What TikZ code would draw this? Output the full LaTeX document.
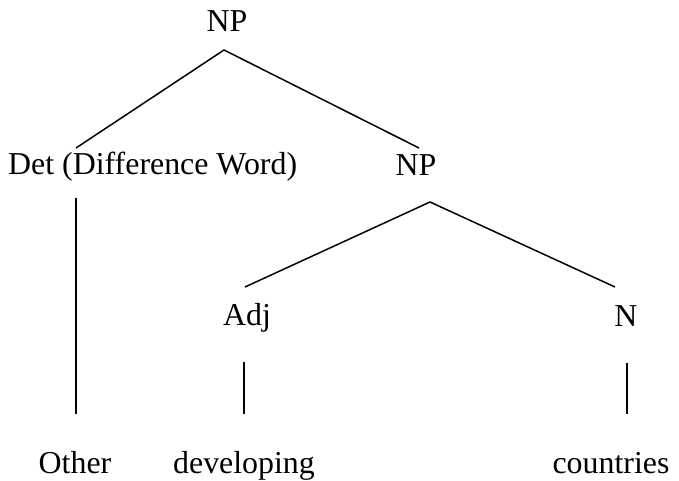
\documentclass[tikz,border=0pt]{standalone}
\usepackage{fontspec}
\setmainfont{Liberation Serif}
\begin{document}
\begin{tikzpicture}[x=1bp,y=-1bp,
  lbl/.style={inner sep=0pt,anchor=base,font=\fontsize{32}{38}\selectfont},
  branch/.style={line width=1.5bp,line cap=butt}]
\useasboundingbox (0,0) rectangle (679,481);
% labels
\node[lbl] (np1) at (227,32) {NP};
\node[lbl,anchor=base west] (det) at (8,175) {Det (Difference Word)};
\node[lbl] (np2) at (416,176) {NP};
\node[lbl] (adj) at (247,325) {Adj};
\node[lbl] (n) at (626,326) {N};
\node[lbl] (other) at (75,473) {Other};
\node[lbl] (dev) at (244,473) {developing};
\node[lbl] (ctr) at (611,473) {countries};
% branch end points
\coordinate (np1-foot) at (224,50);
\coordinate (det-head) at (76,148);
\coordinate (np2-head) at (419,148);
\coordinate (np2-foot) at (430,202);
\coordinate (adj-head) at (245,287);
\coordinate (n-head) at (615,287);
\coordinate (det-foot) at (76,198);
\coordinate (other-head) at (76,414);
\coordinate (adj-foot) at (244,362);
\coordinate (dev-head) at (244,414);
\coordinate (n-foot) at (627,363);
\coordinate (ctr-head) at (627,414);
% branches
\draw[branch] (det-head) -- (np1-foot) -- (np2-head);
\draw[branch] (adj-head) -- (np2-foot) -- (n-head);
\draw[branch] (det-foot) -- (other-head);
\draw[branch] (adj-foot) -- (dev-head);
\draw[branch] (n-foot) -- (ctr-head);
\end{tikzpicture}
\end{document}
